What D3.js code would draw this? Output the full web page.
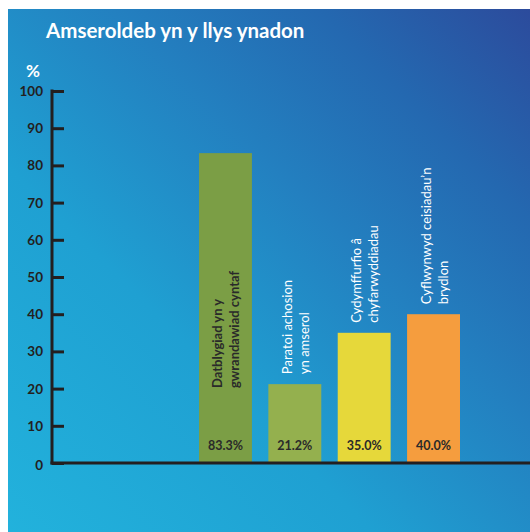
<!DOCTYPE html>
<html><head><meta charset="utf-8">
<script src="https://cdn.jsdelivr.net/npm/d3@7"></script>
<style>html,body{margin:0;padding:0;background:#fff;}svg{display:block;}</style>
</head><body>
<script>
const title = "Amseroldeb yn y llys ynadon";
const categories = [
  ["Datblygiad yn y", "gwrandawiad cyntaf"],
  ["Paratoi achosion", "yn amserol"],
  ["Cydymffurfio â", "chyfarwyddiadau"],
  ["Cyflwynwyd ceisiadau\u2019n", "brydlon"]
];
const values = [83.3, 21.2, 35.0, 40.0];
const valueLabels = ["83.3%", "21.2%", "35.0%", "40.0%"];
const barColors = ["#7b9e45", "#94b04e", "#e6d83a", "#f59d3e"];
const labelColors = ["#2a2a2a", "#ffffff", "#ffffff", "#ffffff"];
const yTicks = [0, 10, 20, 30, 40, 50, 60, 70, 80, 90, 100];

const W = 530, H = 532;
const svg = d3.select("body").append("svg").attr("width", W).attr("height", H);
const defs = svg.append("defs");
const g = defs.append("linearGradient").attr("id", "bg")
  .attr("x1", "0").attr("y1", "1").attr("x2", "1").attr("y2", "0");
[[0, "#22b2dc"], [0.35, "#1fa0d2"], [0.6, "#2380c0"], [0.8, "#2468b0"], [1, "#2c4b9c"]]
  .forEach(([o, c]) => g.append("stop").attr("offset", o).attr("stop-color", c));

svg.append("rect").attr("x", 8).attr("y", 9).attr("width", W - 8).attr("height", H - 9).attr("fill", "url(#bg)");

const font = "Lato, 'Open Sans', sans-serif";
svg.append("text").attr("x", 46).attr("y", 38).attr("fill", "#fff")
  .attr("font-family", font).attr("font-weight", "bold").attr("font-size", 20.5).text(title);
svg.append("text").attr("x", 26).attr("y", 77).attr("fill", "#fff")
  .attr("font-family", font).attr("font-weight", "bold").attr("font-size", 17).text("%");

const y = d3.scaleLinear().domain([0, 100]).range([463, 91]);
const x = d3.scaleBand().domain(d3.range(categories.length)).range([199, 460]).paddingInner(0.237).paddingOuter(0);

// bars
const bars = svg.append("g");
bars.selectAll("rect").data(values).join("rect")
  .attr("x", (d, i) => x(i)).attr("width", x.bandwidth())
  .attr("y", d => y(d)).attr("height", d => y(0) - y(d))
  .attr("fill", (d, i) => barColors[i]);

// value labels
bars.selectAll("text.v").data(valueLabels).join("text").attr("class", "v")
  .attr("x", (d, i) => x(i) + x.bandwidth() / 2).attr("y", 450)
  .attr("text-anchor", "middle").attr("fill", "#2a2a2a")
  .attr("font-family", font).attr("font-weight", "bold").attr("font-size", 12.5).text(d => d);

// category labels (rotated)
categories.forEach((lines, i) => {
  const cx = x(i) + x.bandwidth() / 2;
  const startY = i === 0 ? 388 : y(values[i]) - 10;
  const t = svg.append("text")
    .attr("transform", `translate(${cx},${startY}) rotate(-90)`)
    .attr("fill", labelColors[i]).attr("font-family", font).attr("font-size", 13)
    .attr("font-weight", i === 0 ? "bold" : "normal");
  lines.forEach((l, k) => {
    t.append("tspan").attr("x", 0).attr("y", k === 0 ? -3 : 14).text(l);
  });
});

// axis
const axis = d3.axisRight(y).tickValues(yTicks).tickSize(12).tickFormat("");
const ag = svg.append("g").attr("transform", "translate(52,0)").call(axis);
ag.select(".domain").remove();
ag.selectAll(".tick line").attr("stroke", "#231f20").attr("stroke-width", 3);
svg.append("line").attr("x1", 52).attr("x2", 52).attr("y1", 89.5).attr("y2", 464.5)
  .attr("stroke", "#231f20").attr("stroke-width", 3);
svg.append("line").attr("x1", 50.5).attr("x2", W).attr("y1", y(0)).attr("y2", y(0))
  .attr("stroke", "#231f20").attr("stroke-width", 3);

svg.append("g").selectAll("text").data(yTicks).join("text")
  .attr("x", 43).attr("y", d => y(d) + (d === 0 ? 7 : 5))
  .attr("text-anchor", "end").attr("fill", "#231f20")
  .attr("font-family", font).attr("font-weight", "bold").attr("font-size", 13.5)
  .text(d => d);
</script>
</body></html>
